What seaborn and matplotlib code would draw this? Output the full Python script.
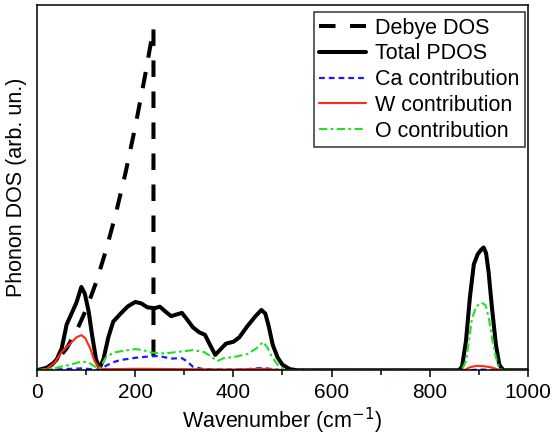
import numpy as np
import pandas as pd
import matplotlib
matplotlib.use("Agg")
import matplotlib.pyplot as plt
import seaborn as sns

# values (heights in arbitrary units, axis top = 1)
debye_x = [0, 20, 40, 60, 80, 100, 120, 140, 160, 180, 200, 220, 237, 237]
debye_y = [0, 0.007, 0.027, 0.060, 0.107, 0.167, 0.240, 0.327, 0.427, 0.540,
           0.667, 0.807, 0.936, 0]

total_x = [0, 15, 30, 40, 50, 60, 70, 80, 90, 97, 105, 112, 120, 127, 135, 145,
           155, 170, 185, 200, 212, 225, 240, 250, 262, 273, 285, 295, 305, 317,
           330, 342, 352, 363, 372, 385, 400, 412, 428, 445, 457, 465, 472, 480,
           490, 500, 515, 530, 860, 866, 874, 882, 890, 898, 905, 910, 915, 920,
           927, 935, 942, 950, 1000]
total_y = [0, 0.003, 0.015, 0.03, 0.06, 0.125, 0.155, 0.185, 0.228, 0.21, 0.16,
           0.095, 0.03, 0.005, 0.03, 0.09, 0.133, 0.155, 0.175, 0.187, 0.183,
           0.172, 0.17, 0.174, 0.16, 0.148, 0.153, 0.157, 0.14, 0.118, 0.104,
           0.097, 0.07, 0.042, 0.055, 0.073, 0.078, 0.09, 0.12, 0.148, 0.165,
           0.155, 0.12, 0.07, 0.035, 0.015, 0.003, 0, 0, 0.01, 0.08, 0.2, 0.29,
           0.318, 0.33, 0.336, 0.32, 0.27, 0.17, 0.07, 0.015, 0, 0]

ca_x = [0, 40, 70, 90, 110, 127, 140, 155, 170, 200, 230, 248, 262, 275, 295,
        305, 317, 335, 360, 420, 445, 460, 480, 500, 880, 900, 930, 950, 1000]
ca_y = [0, 0.002, 0.004, 0.005, 0.003, 0.001, 0.012, 0.022, 0.028, 0.034,
        0.038, 0.039, 0.035, 0.032, 0.033, 0.025, 0.01, 0.004, 0.002, 0.002,
        0.005, 0.006, 0.003, 0, 0, 0.002, 0.001, 0, 0]

w_x = [0, 20, 35, 50, 65, 80, 90, 98, 108, 117, 127, 150, 200, 300, 400, 460,
       500, 870, 882, 895, 910, 925, 940, 950, 1000]
w_y = [0, 0.004, 0.02, 0.05, 0.07, 0.09, 0.096, 0.088, 0.06, 0.025, 0.004,
       0.003, 0.004, 0.003, 0.002, 0.004, 0, 0, 0.008, 0.012, 0.011, 0.008,
       0.002, 0, 0]

o_x = [0, 30, 50, 70, 90, 105, 118, 127, 140, 155, 175, 200, 215, 235, 260,
       285, 317, 340, 355, 367, 380, 400, 428, 447, 460, 468, 478, 490, 505,
       865, 874, 880, 886, 895, 906, 914, 921, 928, 935, 942, 950, 1000]
o_y = [0, 0.004, 0.01, 0.016, 0.024, 0.021, 0.01, 0.004, 0.035, 0.048, 0.053,
       0.058, 0.055, 0.048, 0.046, 0.05, 0.055, 0.05, 0.037, 0.025, 0.033,
       0.036, 0.044, 0.06, 0.077, 0.065, 0.038, 0.015, 0, 0, 0.025, 0.08,
       0.14, 0.175, 0.185, 0.178, 0.14, 0.08, 0.035, 0.005, 0, 0]

sns.set_style("ticks", {"axes.edgecolor": "black", "text.color": "black",
                        "axes.labelcolor": "black", "xtick.color": "black",
                        "ytick.color": "black"})
plt.rcParams["font.family"] = ["Liberation Sans", "DejaVu Sans"]
plt.rcParams["axes.linewidth"] = 1.1

fig, ax = plt.subplots(figsize=(5.55, 4.45), dpi=100)
fig.subplots_adjust(left=0.067, right=0.951, bottom=0.168, top=0.989)

series = [
    (debye_x, debye_y, "Debye DOS", "black", 2.9, (4.1, 3.6)),
    (total_x, total_y, "Total PDOS", "black", 2.9, None),
    (ca_x, ca_y, "Ca contribution", "#1a1aff", 1.6, (2.6, 1.8)),
    (w_x, w_y, "W contribution", "#ff2a12", 1.5, None),
    (o_x, o_y, "O contribution", "#22e022", 1.5, (4, 1.6, 1.3, 1.6)),
]
for xs, ys, lab, col, lw, dash in series:
    sns.lineplot(x=xs, y=ys, ax=ax, color=col, linewidth=lw, label=lab,
                 estimator=None, sort=False)
    if dash is not None:
        ax.lines[-1].set_dashes(dash)

ax.set_xlim(0, 1000)
ax.set_ylim(0, 1.0)
ax.set_yticks([])
ax.set_xticks(np.arange(0, 1001, 200))
ax.set_xticks(np.arange(100, 1000, 200), minor=True)
ax.tick_params(axis="x", which="major", direction="out", length=5, width=1.1,
               labelsize=15, pad=4, colors="black")
ax.tick_params(axis="x", which="minor", direction="out", length=3.5, width=1.1,
               colors="black")
ax.set_xlabel("Wavenumber (cm$^{-1}$)", fontsize=15.5, labelpad=3, color="black")
ax.set_ylabel("Phonon DOS (arb. un.)", fontsize=15.5, labelpad=7, color="black")

leg = ax.legend(loc="upper right", bbox_to_anchor=(0.994, 0.98), fontsize=15.5,
                frameon=True, fancybox=False, edgecolor="black",
                handlelength=2.2, borderpad=0.25, labelspacing=0.22,
                handletextpad=0.4, borderaxespad=0.0)
leg.get_frame().set_linewidth(1.1)
for t in leg.get_texts():
    t.set_color("black")

plt.savefig("out.png", dpi=100)
plt.close()
